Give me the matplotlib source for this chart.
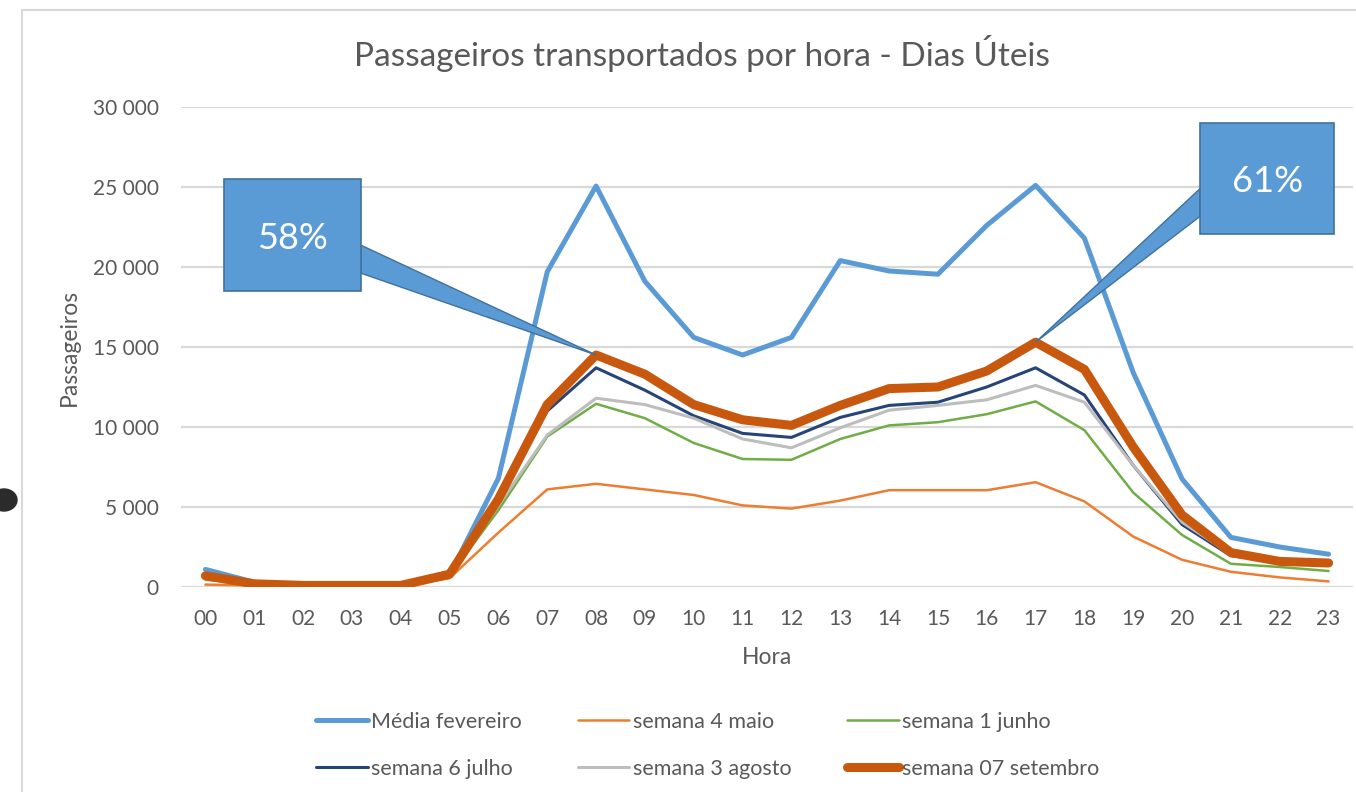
import matplotlib.pyplot as plt
from matplotlib.patches import Polygon, Rectangle, Ellipse
from matplotlib.ticker import FuncFormatter

horas = [f"{h:02d}" for h in range(24)]

media_fevereiro = [1100, 300, 100, 100, 100, 750, 6800, 19700, 25060, 19100, 15600, 14500,
                   15600, 20400, 19750, 19550, 22600, 25100, 21800, 13400, 6750, 3100, 2500, 2050]
semana_4_maio = [150, 100, 50, 50, 50, 550, 3400, 6100, 6450, 6100, 5750, 5100,
                 4900, 5400, 6050, 6050, 6050, 6550, 5350, 3150, 1700, 950, 600, 350]
semana_1_junho = [450, 200, 100, 100, 100, 700, 4800, 9400, 11450, 10550, 9000, 8000,
                  7950, 9250, 10100, 10300, 10800, 11600, 9800, 5900, 3250, 1450, 1250, 1000]
semana_6_julho = [600, 200, 100, 100, 100, 700, 5400, 11000, 13700, 12300, 10700, 9600,
                  9350, 10600, 11350, 11550, 12500, 13700, 12000, 7600, 3900, 1950, 1600, 1450]
semana_3_agosto = [550, 200, 100, 100, 100, 650, 5100, 9500, 11800, 11400, 10550, 9250,
                   8700, 9950, 11050, 11350, 11700, 12600, 11550, 7600, 4050, 2050, 1700, 1450]
semana_07_setembro = [700, 200, 100, 100, 100, 800, 5500, 11400, 14500, 13300, 11400, 10450,
                      10100, 11350, 12400, 12500, 13500, 15300, 13600, 8750, 4500, 2150, 1600, 1500]

series = [
    ("Média fevereiro", media_fevereiro, "#5B9BD5", 3.6),
    ("semana 4 maio", semana_4_maio, "#ED7D31", 1.8),
    ("semana 1 junho", semana_1_junho, "#70AD47", 1.8),
    ("semana 6 julho", semana_6_julho, "#264478", 2.2),
    ("semana 3 agosto", semana_3_agosto, "#BDBDBD", 2.2),
    ("semana 07 setembro", semana_07_setembro, "#C9580F", 6.5),
]

# callouts: (label, hour index of tip, box x0, x1, y0, y1, side of tail)
callouts = [
    ("58%", 8, 0.39, 3.18, 18500, 25500, "right"),
    ("61%", 17, 20.37, 23.12, 22060, 29000, "left"),
]

plt.rcParams['font.family'] = ['Lato', 'DejaVu Sans']
txt = '#595959'

fig = plt.figure(figsize=(13.56, 7.92), dpi=100)
ax = fig.add_axes([181 / 1356, 205 / 792, 1172 / 1356, 480 / 792])

x = list(range(len(horas)))
linhas = []
for nome, vals, cor, lw in series:
    l, = ax.plot(x, vals, color=cor, linewidth=lw, label=nome, solid_capstyle='round',
                 solid_joinstyle='round')
    linhas.append(l)

ax.set_xlim(-0.5, 23.5)
ax.set_ylim(0, 30000)
ax.set_yticks(range(0, 30001, 5000))
ax.yaxis.set_major_formatter(FuncFormatter(lambda v, p: f"{int(v):,}".replace(",", " ")))
ax.set_xticks(x)
ax.set_xticklabels(horas)
ax.grid(axis='y', color='#D9D9D9', linewidth=1.6)
ax.set_axisbelow(True)
for s in ax.spines.values():
    s.set_visible(False)
ax.tick_params(length=0, labelsize=15, colors=txt)
ax.tick_params(axis='x', pad=16)
ax.tick_params(axis='y', pad=16)

ax.set_xlabel("Hora", fontsize=16.5, color=txt)
ax.set_ylabel("Passageiros", fontsize=16.5, color=txt)
ax.xaxis.set_label_coords(0.5, -0.125)
ax.yaxis.set_label_coords(-0.086, 0.5)
fig.text(0.518, 0.932, "Passageiros transportados por hora - Dias Úteis",
         ha='center', va='center', fontsize=24, color=txt)

# callout boxes with wedge tails
for label, idx, x0, x1, y0, y1, side in callouts:
    tip = (idx, semana_07_setembro[idx])
    h = y1 - y0
    bx = x1 if side == "right" else x0
    base = [(bx, y0 + 0.16 * h), (bx, y0 + 0.41 * h)]
    ax.add_patch(Polygon([base[0], tip, base[1]], closed=True, facecolor='#5B9BD5',
                         edgecolor='#41719C', linewidth=1, zorder=10, clip_on=False))
    ax.add_patch(Rectangle((x0, y0), x1 - x0, h, facecolor='#5B9BD5', edgecolor='#41719C',
                           linewidth=1.2, zorder=11, clip_on=False))
    ax.text((x0 + x1) / 2, y0 + 0.47 * h, label, ha='center', va='center', fontsize=26,
            color='white', zorder=12)

# legend filled row by row, like the original
ordem = [0, 3, 1, 4, 2, 5]
leg = fig.legend([linhas[i] for i in ordem], [series[i][0] for i in ordem],
                 loc='center', bbox_to_anchor=(0.522, 0.059), ncol=3, frameon=False,
                 fontsize=15.5, handlelength=2.4, handletextpad=0.15, columnspacing=2.6,
                 labelspacing=1.25)
for t in leg.get_texts():
    t.set_color(txt)

# chart border
fig.add_artist(Rectangle((22 / 1356, -0.01), 1.0, (792 - 10) / 792 + 0.01,
                         transform=fig.transFigure, fill=False, edgecolor='#D9D9D9',
                         linewidth=1.5))
# dark smudge at the left edge of the screenshot
fig.add_artist(Ellipse((4 / 1356, 1 - 500 / 792), 26 / 1356, 22 / 792,
                       transform=fig.transFigure, color='#2B2B2B'))

fig.savefig("out.png", dpi=100, facecolor='white')
